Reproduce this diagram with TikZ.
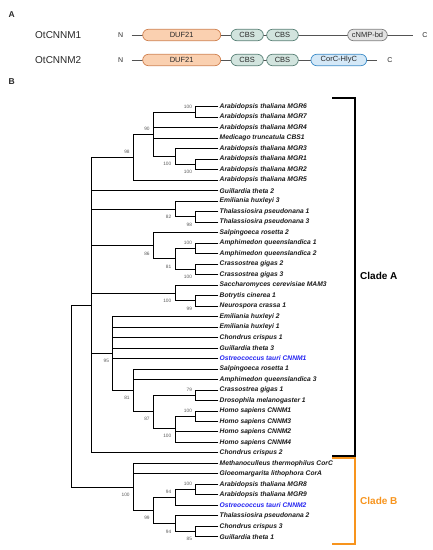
\documentclass[tikz,border=0pt]{standalone}
\usepackage{fontspec}
\setmainfont{Liberation Sans}
\definecolor{bsgrey}{RGB}{90,90,90}
\definecolor{txt}{RGB}{40,40,40}
\definecolor{otblue}{RGB}{35,35,240}
\definecolor{cladeB}{RGB}{247,148,29}
\definecolor{dufF}{RGB}{250,208,176}
\definecolor{dufD}{RGB}{208,128,78}
\definecolor{cbsF}{RGB}{210,228,222}
\definecolor{cbsD}{RGB}{88,128,118}
\definecolor{cnmF}{RGB}{226,226,226}
\definecolor{cnmD}{RGB}{125,125,125}
\definecolor{corF}{RGB}{212,232,247}
\definecolor{corD}{RGB}{60,140,200}
\begin{document}
\begin{tikzpicture}[x=1pt,y=-1pt,
  br/.style={line width=0.8pt, black, line cap=rect},
  leaf/.style={anchor=west, inner sep=0pt, xshift=1.5pt, text=black!90, font=\fontsize{6.7}{7}\selectfont\bfseries\itshape},
  bs/.style={inner sep=0pt, font=\fontsize{4.8}{5}\selectfont, text=bsgrey},
  bsa/.style={bs, anchor=south east, xshift=-3.5pt, yshift=3.6pt},
  bsb/.style={bs, anchor=north east, xshift=-3.5pt, yshift=-5.8pt},
  dom/.style={draw, line width=0.7pt, rounded corners=5.7pt, minimum height=11.4pt, inner sep=0pt, font=\fontsize{7.5}{8}\selectfont, text=txt},
  backbone/.style={line width=0.7pt, txt!80},
  prot/.style={anchor=west, inner sep=0pt, font=\fontsize{10}{12}\selectfont, text=txt},
  term/.style={inner sep=0pt, font=\fontsize{7}{8}\selectfont, text=txt},
  panel/.style={inner sep=0pt, font=\fontsize{8.5}{10}\selectfont\bfseries, text=txt},
  clade/.style={line width=1.7pt},
  cladelab/.style={anchor=west, inner sep=0pt, font=\fontsize{10}{12}\selectfont\bfseries},
]
\useasboundingbox (0,0) rectangle (432,550);

% ---------- Panel A ----------
\node[panel] (pA) at (11.7,15) {A};
\node[panel] (pB) at (11.7,81.7) {B};

\node[prot] (p1) at (35,35) {OtCNNM1};
\node[term] (N1) at (120.7,35) {N};
\node[term] (C1) at (425,35) {C};
\coordinate (s1) at (131.7,35);
\coordinate (e1) at (413.3,35);
\draw[backbone] (s1) -- (e1);
\node[dom, fill=dufF, draw=dufD, minimum width=78pt] (d1) at (181.7,35) {DUF21};
\node[dom, fill=cbsF, draw=cbsD, minimum width=32.3pt] (c1a) at (247.2,35) {CBS};
\node[dom, fill=cbsF, draw=cbsD, minimum width=31.6pt] (c1b) at (282.5,35) {CBS};
\node[dom, fill=cnmF, draw=cnmD, minimum width=39.6pt] (m1) at (367.5,35) {cNMP-bd};

\node[prot] (p2) at (35,60) {OtCNNM2};
\node[term] (N2) at (120.7,60) {N};
\node[term] (C2) at (390,60) {C};
\coordinate (s2) at (131.7,60);
\coordinate (e2) at (376.7,60);
\draw[backbone] (s2) -- (e2);
\node[dom, fill=dufF, draw=dufD, minimum width=78pt] (d2) at (181.7,60) {DUF21};
\node[dom, fill=cbsF, draw=cbsD, minimum width=32.3pt] (c2a) at (247.2,60) {CBS};
\node[dom, fill=cbsF, draw=cbsD, minimum width=31.6pt] (c2b) at (282.5,60) {CBS};
\node[dom, fill=corF, draw=corD, minimum width=55.7pt] (h2) at (338.8,60) {CorC-HlyC};

% ---------- Panel B: tree ----------
\foreach \i in {1,...,42} {
  \coordinate (L\i) at (218,{106.7+(\i-1)*10.49});
}
\coordinate (n67) at (195.7,111.95);
\coordinate (n12) at (195.7,164.4);
\coordinate (n3) at (175,156.5);
\coordinate (n90) at (153.3,134.2);
\coordinate (n98) at (133.3,157.2);
\coordinate (nTh) at (195.7,216.85);
\coordinate (n82) at (175,208.98);
\coordinate (nAm) at (195.7,248.3);
\coordinate (nCr) at (195.7,269.3);
\coordinate (n81a) at (175,258.8);
\coordinate (n86) at (153.3,245.7);
\coordinate (nBN) at (195.7,300.77);
\coordinate (nSa) at (175,292.9);
\coordinate (n79) at (195.7,395.18);
\coordinate (nH13) at (195.7,416.15);
\coordinate (nH) at (175,428);
\coordinate (n87) at (153.3,411.6);
\coordinate (n81b) at (133.3,390.3);
\coordinate (n95) at (112.7,353.4);
\coordinate (nA) at (91.7,305.0);
\coordinate (n89) at (195.7,489.6);
\coordinate (n94a) at (175,497.5);
\coordinate (n85) at (195.7,531.55);
\coordinate (n94b) at (175,523.7);
\coordinate (n99) at (153.3,510.6);
\coordinate (nB) at (133.3,487.0);
\coordinate (R) at (71,396);

\foreach \p/\c in {n67/L1, n67/L2, n12/L6, n12/L7, n3/L5, n3/n12,
  n90/n67, n90/L3, n90/L4, n90/n3, n98/n90, n98/L8,
  nTh/L11, nTh/L12, n82/L10, n82/nTh,
  nAm/L14, nAm/L15, nCr/L16, nCr/L17, n81a/nAm, n81a/nCr, n86/L13, n86/n81a,
  nBN/L19, nBN/L20, nSa/L18, nSa/nBN,
  n79/L28, n79/L29, nH13/L30, nH13/L31, nH/nH13, nH/L32, nH/L33,
  n87/n79, n87/nH, n81b/L26, n81b/L27, n81b/n87,
  n95/L21, n95/L22, n95/L23, n95/L24, n95/L25, n95/n81b,
  nA/n98, nA/L9, nA/n82, nA/n86, nA/nSa, nA/n95, nA/L34,
  n89/L37, n89/L38, n94a/n89, n94a/L39, n85/L41, n85/L42, n94b/L40, n94b/n85,
  n99/n94a, n99/n94b, nB/L35, nB/L36, nB/n99,
  R/nA, R/nB} {
  \draw[br] (\p) |- (\c);
}

% leaf labels
\node[leaf] (t1) at (L1) {Arabidopsis thaliana MGR6};
\node[leaf] (t2) at (L2) {Arabidopsis thaliana MGR7};
\node[leaf] (t3) at (L3) {Arabidopsis thaliana MGR4};
\node[leaf] (t4) at (L4) {Medicago truncatula CBS1};
\node[leaf] (t5) at (L5) {Arabidopsis thaliana MGR3};
\node[leaf] (t6) at (L6) {Arabidopsis thaliana MGR1};
\node[leaf] (t7) at (L7) {Arabidopsis thaliana MGR2};
\node[leaf] (t8) at (L8) {Arabidopsis thaliana MGR5};
\node[leaf] (t9) at (L9) {Guillardia theta 2};
\node[leaf] (t10) at (L10) {Emiliania huxleyi 3};
\node[leaf] (t11) at (L11) {Thalassiosira pseudonana 1};
\node[leaf] (t12) at (L12) {Thalassiosira pseudonana 3};
\node[leaf] (t13) at (L13) {Salpingoeca rosetta 2};
\node[leaf] (t14) at (L14) {Amphimedon queenslandica 1};
\node[leaf] (t15) at (L15) {Amphimedon queenslandica 2};
\node[leaf] (t16) at (L16) {Crassostrea gigas 2};
\node[leaf] (t17) at (L17) {Crassostrea gigas 3};
\node[leaf] (t18) at (L18) {Saccharomyces cerevisiae MAM3};
\node[leaf] (t19) at (L19) {Botrytis cinerea 1};
\node[leaf] (t20) at (L20) {Neurospora crassa 1};
\node[leaf] (t21) at (L21) {Emiliania huxleyi 2};
\node[leaf] (t22) at (L22) {Emiliania huxleyi 1};
\node[leaf] (t23) at (L23) {Chondrus crispus 1};
\node[leaf] (t24) at (L24) {Guillardia theta 3};
\node[leaf, text=otblue] (t25) at (L25) {Ostreococcus tauri CNNM1};
\node[leaf] (t26) at (L26) {Salpingoeca rosetta 1};
\node[leaf] (t27) at (L27) {Amphimedon queenslandica 3};
\node[leaf] (t28) at (L28) {Crassostrea gigas 1};
\node[leaf] (t29) at (L29) {Drosophila melanogaster 1};
\node[leaf] (t30) at (L30) {Homo sapiens CNNM1};
\node[leaf] (t31) at (L31) {Homo sapiens CNNM3};
\node[leaf] (t32) at (L32) {Homo sapiens CNNM2};
\node[leaf] (t33) at (L33) {Homo sapiens CNNM4};
\node[leaf] (t34) at (L34) {Chondrus crispus 2};
\node[leaf] (t35) at (L35) {Methanoculleus thermophilus CorC};
\node[leaf] (t36) at (L36) {Gloeomargarita lithophora CorA};
\node[leaf] (t37) at (L37) {Arabidopsis thaliana MGR8};
\node[leaf] (t38) at (L38) {Arabidopsis thaliana MGR9};
\node[leaf, text=otblue] (t39) at (L39) {Ostreococcus tauri CNNM2};
\node[leaf] (t40) at (L40) {Thalassiosira pseudonana 2};
\node[leaf] (t41) at (L41) {Chondrus crispus 3};
\node[leaf] (t42) at (L42) {Guillardia theta 1};

% bootstrap values
\node[bsa] (b1) at (n67) {100};
\node[bsa] (b2) at (n90) {90};
\node[bsa] (b3) at (n98) {98};
\node[bsb] (b4) at (n3) {100};
\node[bsb] (b5) at (n12) {100};
\node[bsb] (b6) at (n82) {82};
\node[bsb] (b7) at (nTh) {98};
\node[bsb] (b8) at (n86) {86};
\node[bsa] (b9) at (nAm) {100};
\node[bsb] (b10) at (n81a) {81};
\node[bsb] (b11) at (nCr) {100};
\node[bsb] (b12) at (nSa) {100};
\node[bsb] (b13) at (nBN) {99};
\node[bsb] (b14) at (n95) {95};
\node[bsb] (b15) at (n81b) {81};
\node[bsa] (b16) at (n79) {79};
\node[bsa] (b17) at (nH13) {100};
\node[bsb] (b18) at (n87) {87};
\node[bsb] (b19) at (nH) {100};
\node[bsb] (b20) at (nB) {100};
\node[bsa] (b21) at (n89) {100};
\node[bsa] (b22) at (n94a) {94};
\node[bsb] (b23) at (n99) {99};
\node[bsb] (b24) at (n94b) {94};
\node[bsb] (b25) at (n85) {85};

% clade brackets
\coordinate (ka1) at (332.3,98.3);
\coordinate (ka2) at (355,98.3);
\coordinate (ka3) at (355,455.7);
\coordinate (ka4) at (332.3,455.7);
\draw[clade, black] (ka1) -- (ka2) -- (ka3) -- (ka4);
\node[cladelab, text=black] (cA) at (360,276) {Clade A};
\coordinate (kb1) at (332.3,458.3);
\coordinate (kb2) at (355,458.3);
\coordinate (kb3) at (355,544);
\coordinate (kb4) at (332.3,544);
\draw[clade, cladeB] (kb1) -- (kb2) -- (kb3) -- (kb4);
\node[cladelab, text=cladeB] (cB) at (360,500.7) {Clade B};
\end{tikzpicture}
\end{document}
